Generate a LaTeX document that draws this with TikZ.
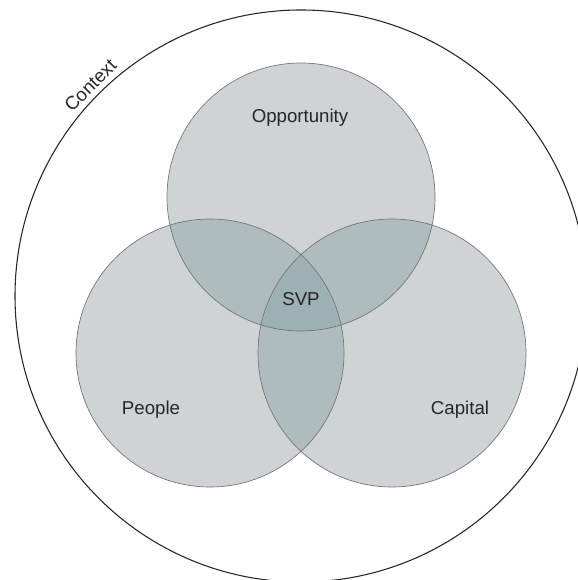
\documentclass[tikz,border=0pt]{standalone}
\usepackage{fontspec}
\setmainfont{Liberation Sans}
\usepackage{tikz}
\usetikzlibrary{positioning}
\usetikzlibrary{shapes}
\definecolor{onecol}{RGB}{207,211,212}
\definecolor{twocol}{RGB}{175,188,189}
\definecolor{threecol}{RGB}{157,177,179}
\tikzstyle{set} = [circle, fill=onecol, minimum size=201pt, inner sep=0pt]
\tikzstyle{rim} = [circle, draw=black!55, line width=0.5pt,
                minimum size=201pt, inner sep=0pt]
\tikzstyle{context} = [circle, draw=black!85, line width=0.8pt,
                minimum size=429pt, inner sep=0pt]
\tikzstyle{tag} = [font=\fontsize{14}{16}\selectfont, text=black!85]

\begin{document}
\begin{tikzpicture}[x=0.75pt, y=0.75pt]
        \useasboundingbox (0,0) rectangle (577,580);
        \node[context](ctx) at (301,284) {};
        \node[set](opp) at (301,383) {};
        \node[set](ppl) at (210,227) {};
        \node[set](cap) at (392,227) {};
        % overlaps
        \begin{scope}
            \clip (opp.center) circle (134);
            \fill[twocol] (ppl.center) circle (134);
            \fill[twocol] (cap.center) circle (134);
        \end{scope}
        \begin{scope}
            \clip (ppl.center) circle (134);
            \fill[twocol] (cap.center) circle (134);
            \clip (opp.center) circle (134);
            \fill[threecol] (cap.center) circle (134);
        \end{scope}
        \node[rim](opprim) at (opp) {};
        \node[rim](pplrim) at (ppl) {};
        \node[rim](caprim) at (cap) {};
        \node[tag](opplabel) at (300,462) {Opportunity};
        \node[tag](ppllabel) at (151,170) {People};
        \node[tag](caplabel) at (460,170) {Capital};
        \node[tag](svp) at (301,281) {SVP};
        \node[tag, rotate=45, anchor=south](ctxlabel) at (ctx.north west) {Context};
    \end{tikzpicture}
\end{document}
